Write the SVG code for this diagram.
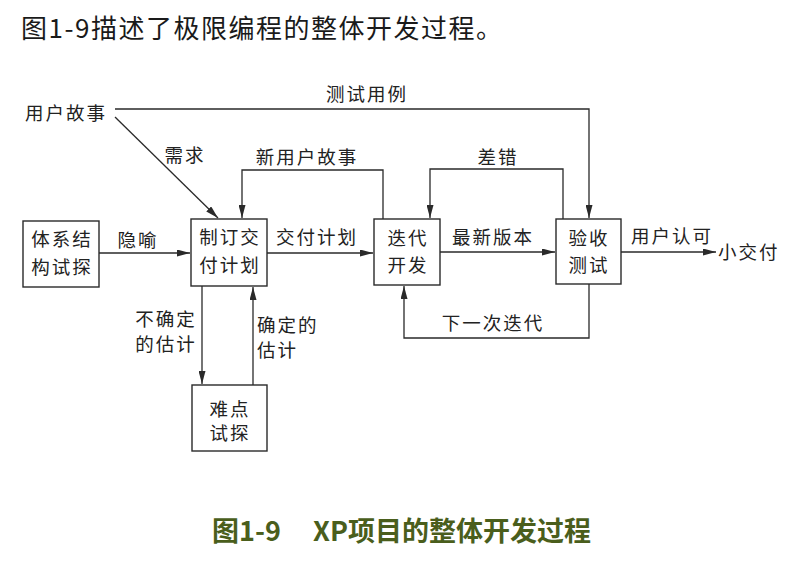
<svg xmlns="http://www.w3.org/2000/svg" width="796" height="577" viewBox="0 0 796 577">
<style>
.box{fill:#fff;stroke:#2a2a2a;stroke-width:1.4}
.t{font-family:"Noto Sans CJK SC","Noto Sans",sans-serif;font-size:18.5px;fill:#222;letter-spacing:2px;text-anchor:middle}
.ls{text-anchor:start}
.c{fill:none;stroke:#2a2a2a;stroke-width:1.3}
.title{font-family:"Noto Sans CJK SC","Noto Sans",sans-serif;font-size:26px;fill:#1a1a1a;letter-spacing:1.5px}
.cap{font-family:"Noto Sans CJK SC","Noto Sans",sans-serif;font-size:27px;font-weight:bold;fill:#4a5e1c}
</style>
<defs>
<marker id="ah" markerWidth="13" markerHeight="7" refX="13" refY="3.5" orient="auto" markerUnits="userSpaceOnUse">
<path d="M0,0 L13,3.5 L0,7 z" fill="#2a2a2a"/>
</marker>
</defs>
<rect width="796" height="577" fill="#fff"/>
<text class="title" x="21" y="38">图1-9描述了极限编程的整体开发过程。</text>

<g id="connectors">
<path class="c" d="M115,109 H589 V218" marker-end="url(#ah)"/>
<path class="c" d="M115,117 L218,218" marker-end="url(#ah)"/>
<path class="c" d="M383,219 V170 H242 V218" marker-end="url(#ah)"/>
<path class="c" d="M563,219 V169 H430 V218" marker-end="url(#ah)"/>
<path class="c" d="M99,253 H190" marker-end="url(#ah)"/>
<path class="c" d="M267,253 H373" marker-end="url(#ah)"/>
<path class="c" d="M440,252 H555" marker-end="url(#ah)"/>
<path class="c" d="M621,252 H716" marker-end="url(#ah)"/>
<path class="c" d="M589,284 V338 H404 V286" marker-end="url(#ah)"/>
<path class="c" d="M202,286 V384" marker-end="url(#ah)"/>
<path class="c" d="M253,385 V287" marker-end="url(#ah)"/>
</g>

<g id="labels">
<text class="t ls" x="25" y="120">用户故事</text>
<text class="t" x="367" y="101">测试用例</text>
<text class="t" x="185" y="162">需求</text>
<text class="t" x="307" y="164">新用户故事</text>
<text class="t" x="498" y="164">差错</text>
<text class="t" x="138" y="247">隐喻</text>
<text class="t" x="317" y="244">交付计划</text>
<text class="t" x="493" y="244">最新版本</text>
<text class="t" x="672" y="243">用户认可</text>
<text class="t ls" x="718" y="259">小交付</text>
<text class="t" x="493" y="330">下一次迭代</text>
<text class="t" x="166" y="326">不确定</text>
<text class="t" x="166" y="351">的估计</text>
<text class="t ls" x="257" y="332">确定的</text>
<text class="t ls" x="257" y="357">估计</text>
</g>

<g id="node-arch">
<rect class="box" x="23" y="221" width="76" height="66"/>
<text class="t" x="62" y="246">体系结</text>
<text class="t" x="62" y="274">构试探</text>
</g>
<g id="node-plan">
<rect class="box" x="191" y="219" width="76" height="67"/>
<text class="t" x="230" y="244">制订交</text>
<text class="t" x="230" y="272">付计划</text>
</g>
<g id="node-iter">
<rect class="box" x="374" y="219" width="66" height="66"/>
<text class="t" x="408" y="245">迭代</text>
<text class="t" x="408" y="272">开发</text>
</g>
<g id="node-accept">
<rect class="box" x="556" y="219" width="65" height="65"/>
<text class="t" x="589" y="245">验收</text>
<text class="t" x="589" y="272">测试</text>
</g>
<g id="node-spike">
<rect class="box" x="192" y="385" width="75" height="66"/>
<text class="t" x="230" y="416">难点</text>
<text class="t" x="230" y="440">试探</text>
</g>

<text class="cap" x="212" y="541">图1-9</text>
<text class="cap" x="313" y="541">XP项目的整体开发过程</text>
</svg>
